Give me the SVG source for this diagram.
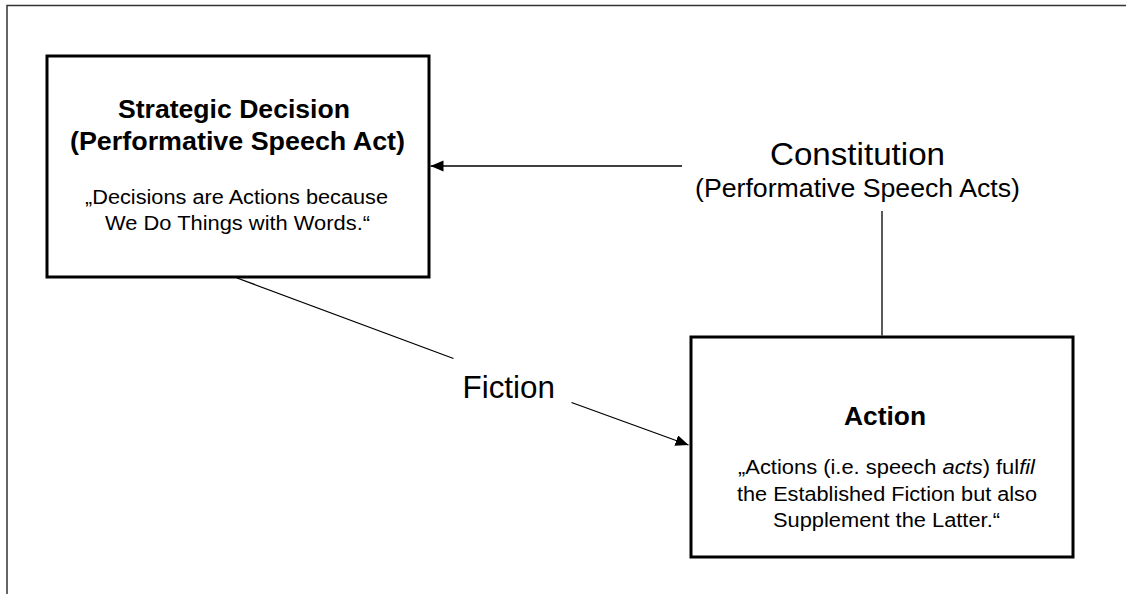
<svg xmlns="http://www.w3.org/2000/svg" width="1126" height="594" viewBox="0 0 1126 594">
  <defs>
    <marker id="arrow" markerUnits="userSpaceOnUse" markerWidth="14" markerHeight="12" refX="13" refY="5.5" orient="auto">
      <path d="M0,0 L13,5.5 L0,11 Z" fill="#000"/>
    </marker>
    <style>
      .box { fill: #fff; stroke: #000; stroke-width: 3; }
      .conn { fill: none; stroke: #000; stroke-width: 1.3; }
      .frame { fill: none; stroke: #333; stroke-width: 1.5; }
      text { font-family: "Liberation Sans", Arial, sans-serif; fill: #000; }
      .title { font-size: 25px; font-weight: bold; }
      .quote { font-size: 20px; }
      .label { font-size: 32px; }
      .sub { font-size: 25px; }
    </style>
  </defs>
  <rect x="0" y="0" width="1126" height="594" fill="#fff"/>
  <path class="frame" d="M7,594 V5.5 H1126"/>

  <g id="connectors">
    <line class="conn" x1="682" y1="166" x2="430.5" y2="166" marker-end="url(#arrow)"/>
    <line class="conn" x1="882" y1="211" x2="882" y2="335.5"/>
    <line class="conn" x1="237" y1="278" x2="453.5" y2="358.5"/>
    <line class="conn" x1="571.5" y1="402.5" x2="688.5" y2="445" marker-end="url(#arrow)"/>
  </g>

  <g id="strategic-decision">
    <rect class="box" x="47" y="56" width="382" height="221"/>
    <text class="title" x="118" y="118" textLength="232" lengthAdjust="spacingAndGlyphs">Strategic Decision</text>
    <text class="title" x="70" y="149.5" textLength="335" lengthAdjust="spacingAndGlyphs">(Performative Speech Act)</text>
    <text class="quote" x="85" y="203.5" textLength="303" lengthAdjust="spacingAndGlyphs">„Decisions are Actions because</text>
    <text class="quote" x="105" y="230" textLength="265" lengthAdjust="spacingAndGlyphs">We Do Things with Words.“</text>
  </g>

  <g id="constitution">
    <text class="label" x="770" y="164.5" textLength="175" lengthAdjust="spacingAndGlyphs">Constitution</text>
    <text class="sub" x="695" y="197" textLength="325" lengthAdjust="spacingAndGlyphs">(Performative Speech Acts)</text>
  </g>

  <g id="fiction">
    <text class="label" style="font-size:31px" x="462.5" y="397.5" textLength="92.5" lengthAdjust="spacingAndGlyphs">Fiction</text>
  </g>

  <g id="action">
    <rect class="box" x="691" y="337" width="382" height="220"/>
    <text class="title" x="844" y="425" textLength="82" lengthAdjust="spacingAndGlyphs">Action</text>
    <text class="quote" x="738" y="474" textLength="297" lengthAdjust="spacingAndGlyphs">„Actions (i.e. speech <tspan font-style="italic">acts</tspan>) ful<tspan font-style="italic">fil</tspan></text>
    <text class="quote" x="737" y="500.7" textLength="300" lengthAdjust="spacingAndGlyphs">the Established Fiction but also</text>
    <text class="quote" x="773" y="526.7" textLength="227" lengthAdjust="spacingAndGlyphs">Supplement the Latter.“</text>
  </g>
</svg>
